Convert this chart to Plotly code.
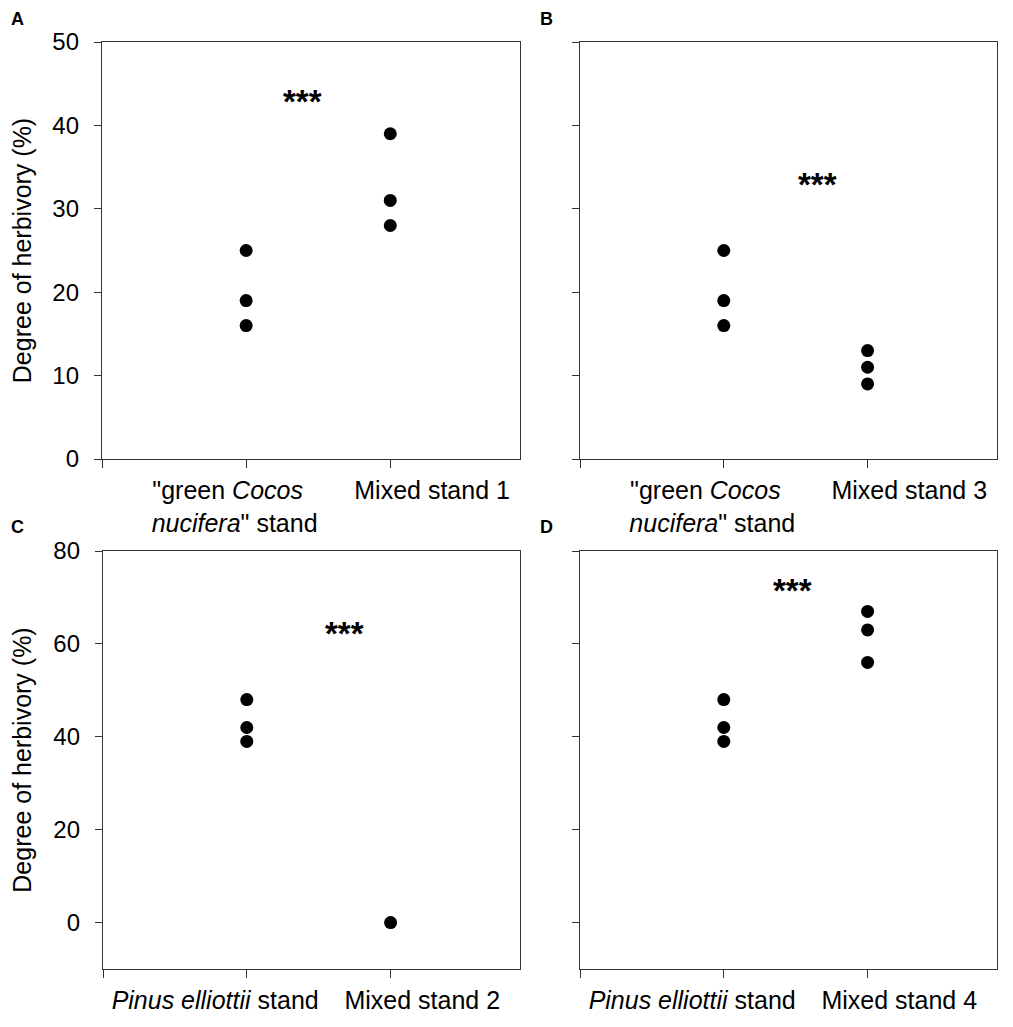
import plotly.graph_objects as go

# Degree of herbivory (%) per stand
cocos = [25, 19, 16]
mixed1 = [39, 31, 28]
mixed3 = [13, 11, 9]
pinus = [48, 42, 39]
mixed2 = [0]
mixed4 = [67, 63, 56]

cocos_label = '"green <i>Cocos</i>\u00a0\u00a0<br><i>nucifera</i>" stand'
pinus_label = '<i>Pinus elliottii</i> stand'
panel_cats = [
    [cocos_label, 'Mixed stand 1'],
    [cocos_label, 'Mixed stand 3'],
    [pinus_label, 'Mixed stand 2'],
    [pinus_label, 'Mixed stand 4'],
]
panel_vals = [(cocos, mixed1), (cocos, mixed3), (pinus, mixed2), (pinus, mixed4)]
panel_letters = ['A', 'B', 'C', 'D']
# the category labels sit a little off their ticks in the original
label_pos = [[0.92, 2.29], [0.92, 2.29], [0.78, 2.22], [0.78, 2.22]]
# where the "***" sits in each panel (x, y in data units)
stars_pos = [(1.39, 43.9), (1.65, 34.0), (1.68, 64.2), (1.48, 73.4)]

# page body has an 8px margin, so the figure is a bit smaller than the window
OFF = 8
W, H = 1013 - 2 * OFF, 1027 - 2 * OFF
FONT = 'Liberation Sans, Arial, sans-serif'
AX = '#333333'

# panel boxes in window pixels: left, right, top, bottom
boxes = [(102, 520, 42, 459), (580, 997, 42, 459),
         (103, 520, 551, 969), (580, 997, 551, 969)]
# panel letter centres in window pixels
letter_xy = [(17, 19), (546, 19), (17, 527), (546, 527)]
yranges = [[0, 50], [0, 50], [-10, 80], [-10, 80]]
ydticks = [[0, 10, 20, 30, 40, 50], [0, 10, 20, 30, 40, 50],
           [0, 20, 40, 60, 80], [0, 20, 40, 60, 80]]

fig = go.Figure()
layout = dict(width=W, height=H, margin=dict(l=0, r=0, t=0, b=0),
              plot_bgcolor='white', paper_bgcolor='white', showlegend=False,
              font=dict(family=FONT, size=24, color='black'))
annots = []

for i in range(4):
    n = '' if i == 0 else str(i + 1)
    ln = str(i + 5)
    left, right, top, bottom = [v - OFF for v in boxes[i]]
    g1, g2 = panel_vals[i]
    fig.add_trace(go.Scatter(
        x=[1] * len(g1) + [2] * len(g2), y=g1 + g2, mode='markers',
        marker=dict(color='black', size=13),
        xaxis='x' + n, yaxis='y' + n, hoverinfo='y'))
    # empty trace so the label axis gets drawn
    fig.add_trace(go.Scatter(x=label_pos[i], y=[None, None], mode='markers',
                             xaxis='x' + ln, yaxis='y' + n, hoverinfo='skip'))
    layout['xaxis' + n] = dict(
        domain=[left / W, right / W], range=[0, 2.9], anchor='y' + n,
        tickvals=[0, 1, 2], showticklabels=False, automargin=False,
        ticks='outside', ticklen=8, tickcolor=AX, tickwidth=1.2,
        showline=True, linecolor=AX, linewidth=1.4, mirror=True,
        showgrid=False, zeroline=False)
    # separate axis only for the category text
    layout['xaxis' + ln] = dict(
        overlaying='x' + n, anchor='y' + n, side='bottom', range=[0, 2.9],
        tickvals=label_pos[i], ticktext=panel_cats[i], tickangle=0,
        ticks='', showline=False, showgrid=False, zeroline=False,
        automargin=False, ticklabelstandoff=14, tickfont=dict(size=25))
    layout['yaxis' + n] = dict(
        domain=[1 - bottom / H, 1 - top / H], range=yranges[i], anchor='x' + n,
        tickvals=ydticks[i], ticks='outside', ticklen=7, tickcolor=AX, tickwidth=1.2,
        showticklabels=(i % 2 == 0), ticklabelstandoff=10, automargin=False,
        showline=True, linecolor=AX, linewidth=1.4, mirror=True,
        showgrid=False, zeroline=False, tickfont=dict(size=24))
    if i % 2 == 0:
        layout['yaxis' + n]['title'] = dict(text='Degree of herbivory (%)',
                                            font=dict(size=25), standoff=14)
    sx, sy = stars_pos[i]
    annots.append(dict(x=sx, y=sy, xref='x' + n, yref='y' + n, text='<b>***</b>',
                       showarrow=False, font=dict(size=33, color='black'),
                       xanchor='center', yanchor='middle', yshift=-9))
    lx, ly = letter_xy[i]
    annots.append(dict(x=(lx - OFF) / W, y=1 - (ly - OFF) / H, xref='paper', yref='paper',
                       text='<b>%s</b>' % panel_letters[i], showarrow=False,
                       font=dict(size=18, color='black'), xanchor='center', yanchor='middle'))

layout['annotations'] = annots
fig.update_layout(**layout)
fig.write_html('out.html')
